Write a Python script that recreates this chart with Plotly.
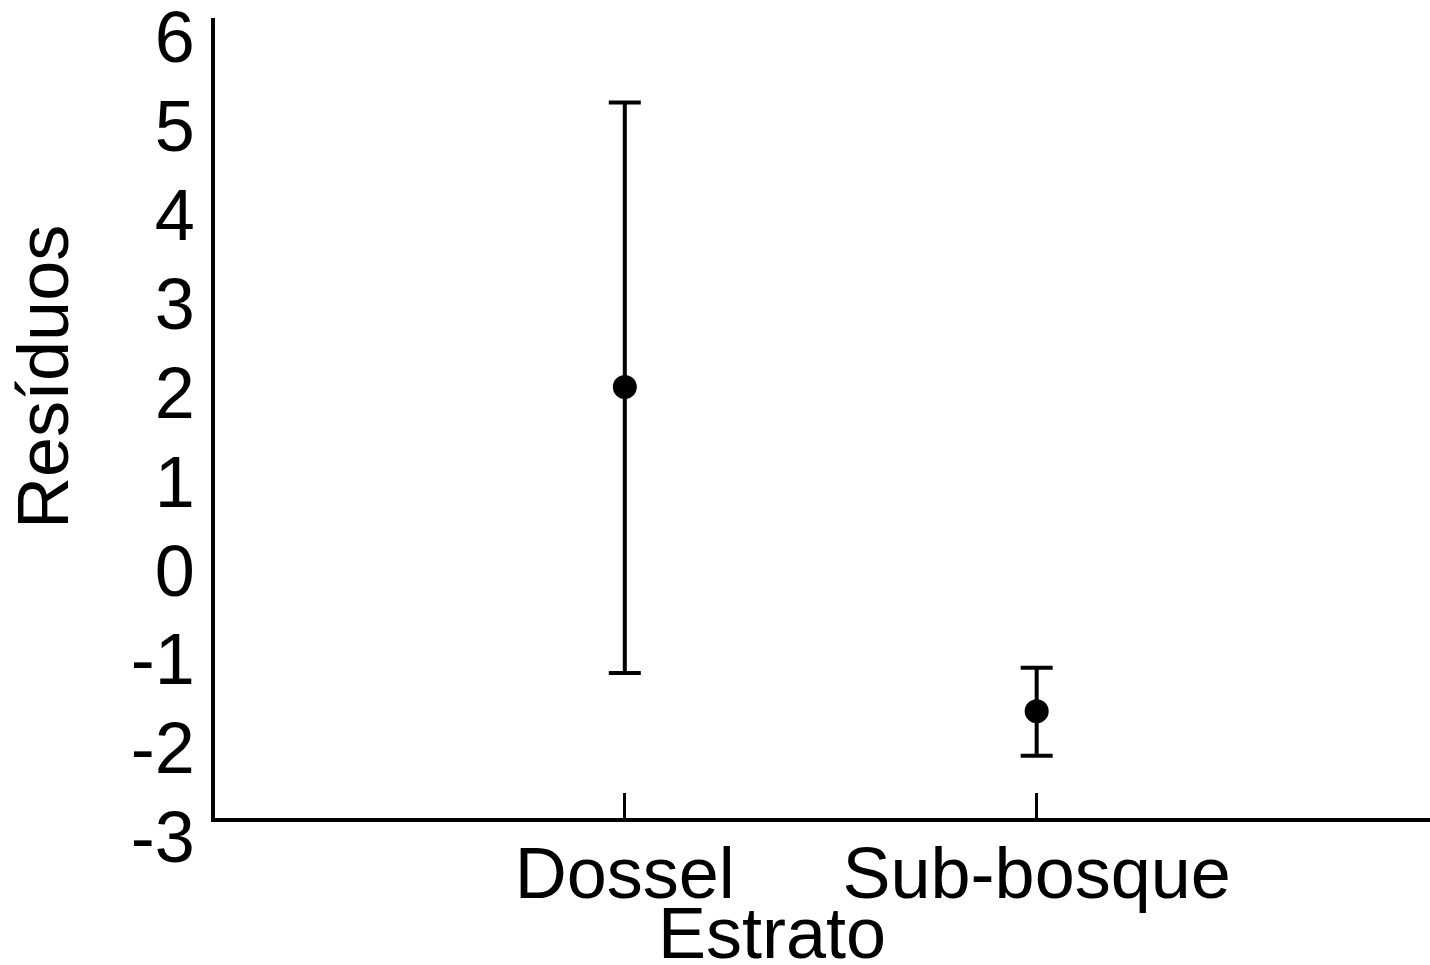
import plotly.graph_objects as go

categories = ["Dossel", "Sub-bosque"]
means = [1.85, -1.80]
upper = [5.05, -1.31]
lower = [-1.37, -2.30]
y_ticks = [-3, -2, -1, 0, 1, 2, 3, 4, 5, 6]

xpos = list(range(len(categories)))
err_plus = [u - m for u, m in zip(upper, means)]
err_minus = [m - l for m, l in zip(means, lower)]

FONT = "Liberation Sans, Arial, sans-serif"

fig = go.Figure()
fig.add_trace(go.Scatter(
    x=xpos, y=means, mode="markers",
    marker=dict(color="black", size=24, symbol="circle"),
    error_y=dict(type="data", symmetric=False, array=err_plus, arrayminus=err_minus,
                 color="black", thickness=4, width=16),
    showlegend=False, hoverinfo="skip",
))

fig.update_layout(
    width=1430, height=965,
    margin=dict(l=215, r=0, t=18, b=147),
    paper_bgcolor="white", plot_bgcolor="white",
    font=dict(family=FONT, color="black", size=72),
    xaxis=dict(
        range=[-0.995, 1.955], tickvals=xpos, ticktext=categories,
        showgrid=False, zeroline=False, showline=True, linecolor="black", linewidth=4,
        ticks="inside", ticklen=25, tickwidth=3, tickcolor="black",
        tickfont=dict(size=72, family=FONT), automargin=False,
        ticklabelstandoff=-10, ticklabeloverflow="allow",
    ),
    yaxis=dict(
        range=[-3, 6], tickvals=y_ticks, ticktext=[str(v) for v in y_ticks],
        showgrid=False, zeroline=False, showline=True, linecolor="black", linewidth=3.5,
        ticks="", tickfont=dict(size=72, family=FONT), automargin=False,
        ticklabelshift=19, ticklabelstandoff=2, ticklabeloverflow="allow",
    ),
    annotations=[
        dict(text="Estrato", xref="paper", yref="paper", x=(772 - 215) / 1215, y=(818 - 933) / 800,
             xanchor="center", yanchor="middle", showarrow=False,
             font=dict(size=72, family=FONT, color="black")),
        dict(text="Resíduos", xref="paper", yref="paper", x=(43 - 215) / 1215, y=(818 - 377) / 800,
             xanchor="center", yanchor="middle", textangle=-90, showarrow=False,
             font=dict(size=72, family=FONT, color="black")),
    ],
)

fig.write_html(
    "out.html",
    config={"displayModeBar": False},
    post_script="document.body.style.margin='0';document.body.style.overflow='hidden';",
)
